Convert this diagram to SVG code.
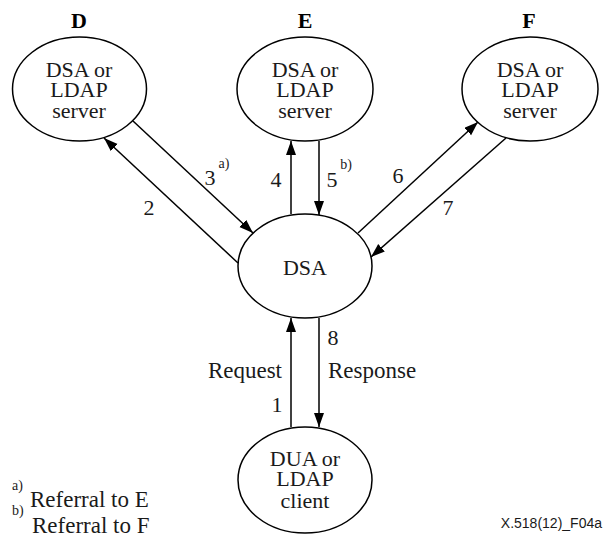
<svg xmlns="http://www.w3.org/2000/svg" width="608" height="548" viewBox="0 0 608 548">
<style>
.node-shape{fill:none;stroke:#000;stroke-width:1.5}
.conn{stroke:#000;stroke-width:1.5;fill:none;marker-end:url(#ah)}
</style>
<defs>
<marker id="ah" markerUnits="userSpaceOnUse" markerWidth="15" markerHeight="11" refX="14" refY="5" orient="auto">
<path d="M0,0 L14,5 L0,10 z" fill="#000"/>
</marker>
</defs>
<g font-family="Liberation Serif" font-size="22" fill="#1a1a1a" text-anchor="middle">
<g id="D">
<text x="79" y="28" font-weight="bold" fill="#000">D</text>
<ellipse class="node-shape" cx="79.5" cy="89" rx="67" ry="52"/>
<text x="79" y="77">DSA or</text>
<text x="79" y="97">LDAP</text>
<text x="79" y="118">server</text>
</g>
<g id="E">
<text x="305" y="28" font-weight="bold" fill="#000">E</text>
<ellipse class="node-shape" cx="305" cy="89" rx="68" ry="52"/>
<text x="305" y="77">DSA or</text>
<text x="305" y="97">LDAP</text>
<text x="305" y="118">server</text>
</g>
<g id="F">
<text x="529" y="28" font-weight="bold" fill="#000">F</text>
<ellipse class="node-shape" cx="530" cy="89" rx="68" ry="52"/>
<text x="530" y="77">DSA or</text>
<text x="530" y="97">LDAP</text>
<text x="530" y="118">server</text>
</g>
<g id="DSA">
<ellipse class="node-shape" cx="305" cy="266" rx="67" ry="52"/>
<text x="305" y="275">DSA</text>
</g>
<g id="DUA">
<ellipse class="node-shape" cx="305" cy="480" rx="67" ry="53"/>
<text x="305" y="466">DUA or</text>
<text x="305" y="486">LDAP</text>
<text x="305" y="508">client</text>
</g>
<g id="connectors">
<line class="conn" x1="238" y1="263" x2="104" y2="138"/>
<line class="conn" x1="133" y1="121" x2="253" y2="233"/>
<line class="conn" x1="291" y1="214" x2="291" y2="141"/>
<line class="conn" x1="319" y1="141" x2="319" y2="215"/>
<line class="conn" x1="358" y1="233" x2="478" y2="122"/>
<line class="conn" x1="506" y1="138" x2="371" y2="257"/>
<line class="conn" x1="291" y1="427" x2="291" y2="318"/>
<line class="conn" x1="319" y1="318" x2="319" y2="427"/>
</g>
<g id="labels">
<text x="149" y="215">2</text>
<text x="210" y="185">3</text>
<text x="224" y="168" font-size="14">a)</text>
<text x="276" y="187">4</text>
<text x="332" y="187">5</text>
<text x="346" y="169" font-size="14">b)</text>
<text x="398" y="183">6</text>
<text x="448" y="215">7</text>
<text x="282" y="378" text-anchor="end" font-size="23">Request</text>
<text x="328" y="378" text-anchor="start" font-size="23">Response</text>
<text x="333" y="345">8</text>
<text x="277" y="412">1</text>
</g>
<g id="notes" text-anchor="start">
<text x="12" y="490" font-size="14">a)</text>
<text x="30" y="507" font-size="23">Referral to E</text>
<text x="12" y="515" font-size="14">b)</text>
<text x="32" y="533" font-size="23">Referral to F</text>
<text x="602" y="528" text-anchor="end" font-family="Liberation Sans" font-size="14">X.518(12)_F04a</text>
</g>
</g>
</svg>
